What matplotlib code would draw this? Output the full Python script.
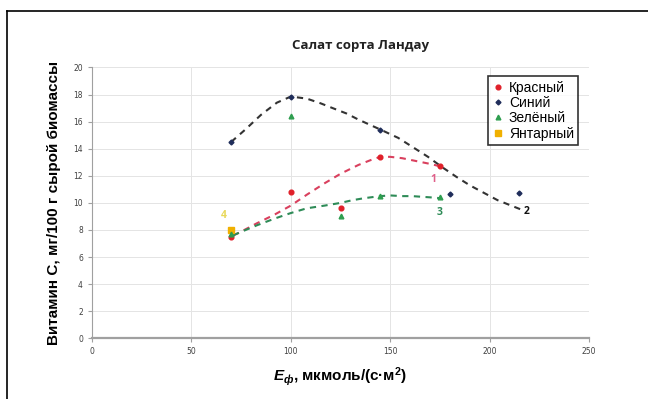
import matplotlib
matplotlib.use("Agg")
import matplotlib.pyplot as plt
from matplotlib.lines import Line2D

plt.rcParams['mathtext.fontset'] = 'custom'
plt.rcParams['mathtext.rm'] = 'Liberation Sans:bold'
plt.rcParams['mathtext.it'] = 'Liberation Sans:bold:italic'

# measured points
red_x = [70, 100, 125, 145, 175]
red_y = [7.5, 10.8, 9.65, 13.4, 12.7]
blue_x = [70, 100, 145, 180, 215]
blue_y = [14.5, 17.85, 15.4, 10.65, 10.7]
green_x = [70, 100, 125, 145, 175]
green_y = [7.7, 16.4, 9.05, 10.5, 10.4]
amber_x = [70]
amber_y = [8.0]

# trend lines
red_trend_x = [71, 74, 83, 92, 100, 108, 117, 125, 134, 140, 145, 150, 156, 161, 166, 171, 175]
red_trend_y = [7.6, 7.8, 8.5, 9.15, 9.8, 10.6, 11.45, 12.15, 12.8, 13.15, 13.4, 13.4, 13.3, 13.15, 13.0, 12.85, 12.7]
blue_trend_x = [70, 77, 85, 93, 100, 108, 115, 121, 128, 134, 140, 146, 154, 161, 169, 176, 183, 190, 197, 204, 210, 216]
blue_trend_y = [14.5, 15.4, 16.5, 17.4, 17.85, 17.7, 17.35, 17.0, 16.6, 16.15, 15.75, 15.35, 14.8, 14.15, 13.4, 12.65, 11.95, 11.3, 10.75, 10.2, 9.85, 9.5]
green_trend_x = [71, 74, 83, 92, 100, 108, 117, 125, 131, 137, 145, 150, 156, 161, 166, 171, 175]
green_trend_y = [7.6, 7.8, 8.35, 8.85, 9.25, 9.6, 9.8, 10.0, 10.2, 10.35, 10.5, 10.55, 10.5, 10.5, 10.45, 10.4, 10.35]

labels = ["Красный", "Синий", "Зелёный", "Янтарный"]
curve_names = ["1", "2", "3", "4"]
curve_name_x = [171.5, 218.5, 175, 66.5]
curve_name_y = [11.7, 9.4, 9.3, 9.1]

fig = plt.figure(figsize=(6.48, 3.99), dpi=100)
ax = fig.add_axes([0.142, 0.152, 0.767, 0.679])

# outer frame (only left and top edges fall inside the picture)
fig.add_artist(Line2D([7/648, 7/648], [0, 1 - 11/399], transform=fig.transFigure, color='black', lw=1.2))
fig.add_artist(Line2D([7/648, 1], [1 - 11/399, 1 - 11/399], transform=fig.transFigure, color='black', lw=1.2))

dash = (3.0, 2.6)
ax.plot(blue_trend_x, blue_trend_y, color='#333333', lw=1.5, dashes=dash, zorder=2)
ax.plot(red_trend_x, red_trend_y, color='#d9405e', lw=1.5, dashes=dash, zorder=2)
ax.plot(green_trend_x, green_trend_y, color='#2e8b57', lw=1.5, dashes=dash, zorder=2)

ax.plot(amber_x, amber_y, 's', color='#f0b000', ms=5, ls='none', label=labels[3], zorder=3)
ax.plot(red_x, red_y, 'o', color='#e0202a', ms=3.4, ls='none', label=labels[0], zorder=4)
ax.plot(blue_x, blue_y, 'D', color='#1f2d5a', ms=2.5, ls='none', label=labels[1], zorder=4)
ax.plot(green_x, green_y, '^', color='#2e9e4f', ms=3.4, ls='none', label=labels[2], zorder=4)

name_colors = ['#e0608a', '#111111', '#2e8b57', '#e8d85a']
for n, x, y, c in zip(curve_names, curve_name_x, curve_name_y, name_colors):
    ax.text(x, y, n, color=c, fontsize=7.5, fontweight='bold', family='Open Sans',
            ha='center', va='center')

ax.set_xlim(0, 250)
ax.set_ylim(0, 20)
ax.set_xticks(range(0, 251, 50))
ax.set_yticks(range(0, 21, 2))
ax.grid(True, color='#e4e4e4', lw=0.7)
ax.set_axisbelow(True)
for s in ['top', 'right']:
    ax.spines[s].set_visible(False)
ax.spines['left'].set_color('#a0a0a0')
ax.spines['bottom'].set_color('#a0a0a0')
ax.spines['bottom'].set_linewidth(1.6)
ax.tick_params(axis='both', labelsize=5.5, labelcolor='#404040', color='#a0a0a0', length=3, width=0.8)

handles, labs = ax.get_legend_handles_labels()
order = [1, 2, 3, 0]
leg = ax.legend([handles[i] for i in order], [labs[i] for i in order],
                loc='upper left', bbox_to_anchor=(0.797, 0.967), frameon=True, fancybox=False,
                prop={'family': 'Liberation Sans', 'size': 10}, labelspacing=0.1,
                handlelength=0.8, handletextpad=0.4, borderpad=0.3, borderaxespad=0)
leg.get_frame().set_edgecolor('black')
leg.get_frame().set_linewidth(1.2)

fig.text(360/648, 1 - 46/399, "Салат сорта Ландау", ha='center', va='center',
         fontsize=9.5, fontweight='bold', family='Open Sans', color='#222222')
ax.set_ylabel("Витамин С, мг/100 г сырой биомассы", fontsize=11, fontweight='bold',
              family='Liberation Sans', labelpad=9)
ax.set_xlabel(r"$\mathit{E}_{\mathit{ф}}$, мкмоль/(с·м$^{\mathrm{2}}$)", fontsize=11,
              fontweight='bold', family='Liberation Sans', labelpad=6)

fig.savefig("out.png", dpi=100)
